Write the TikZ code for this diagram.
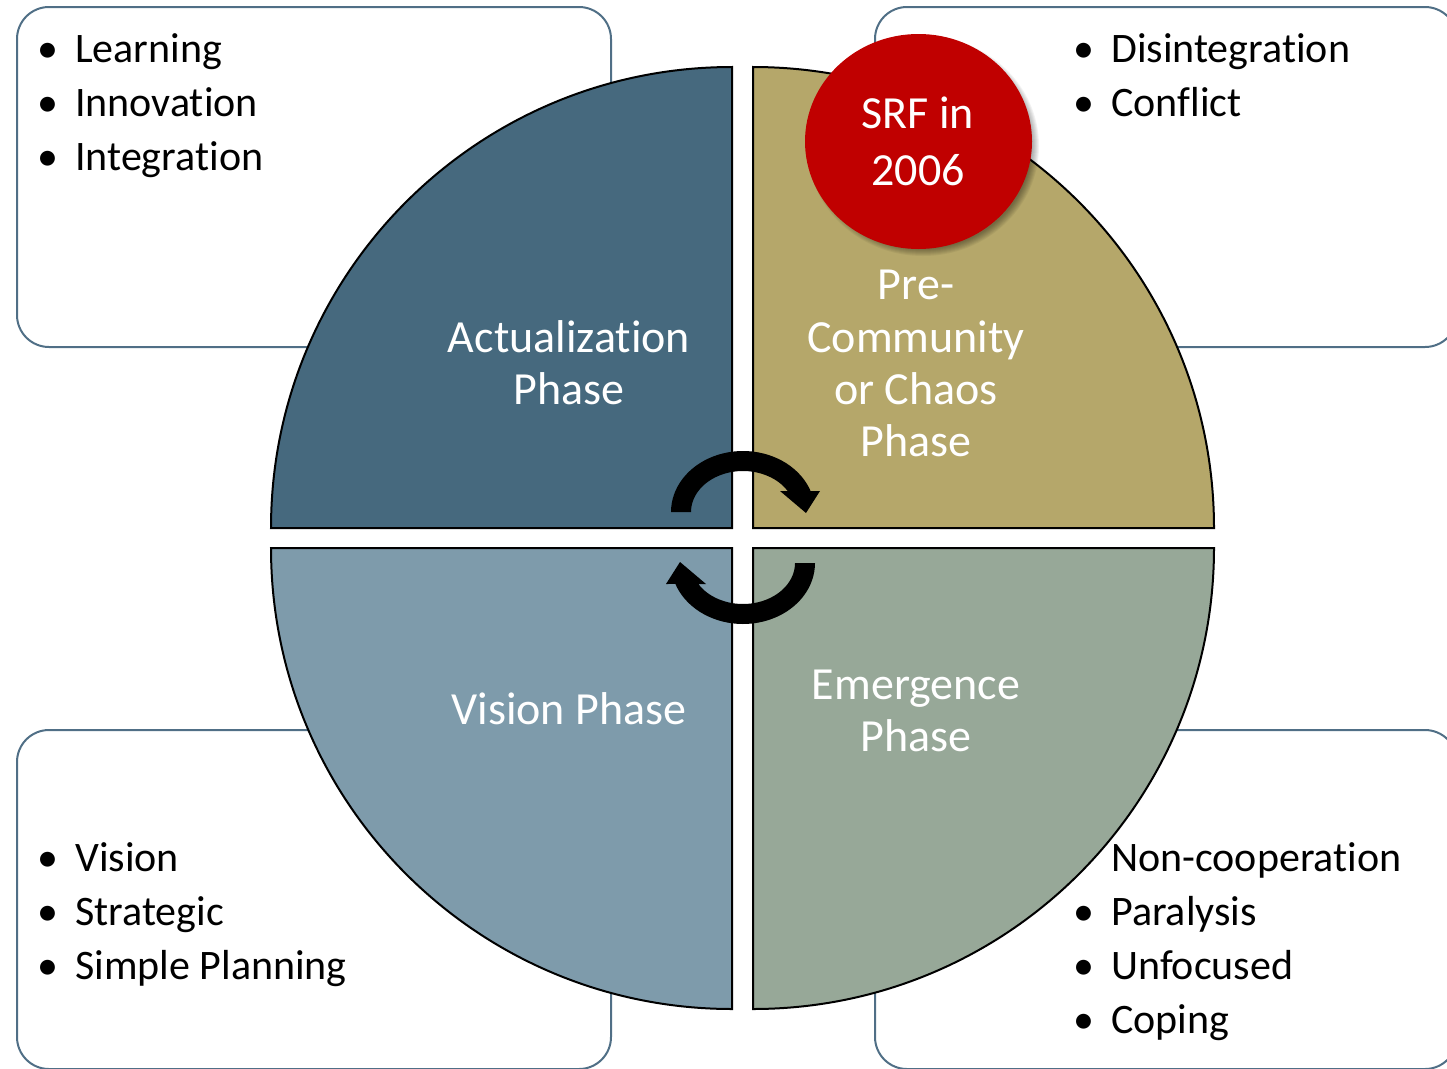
\documentclass[tikz,border=0pt]{standalone}
\usepackage{fontspec}
\setmainfont{Carlito}[Ligatures={NoCommon,NoRare,NoContextual}]
\usetikzlibrary{shapes.geometric}
\newcommand\tnolig{t\kern0pt }
\definecolor{qtl}{RGB}{70,105,126}
\definecolor{qtr}{RGB}{181,167,106}
\definecolor{qbl}{RGB}{126,155,171}
\definecolor{qbr}{RGB}{151,168,152}
\definecolor{srfred}{RGB}{192,0,0}
\definecolor{boxblue}{RGB}{80,111,134}
\begin{document}
\begin{tikzpicture}[x=1pt,y=-1pt,
  infobox/.style={draw=boxblue, line width=2pt, rounded corners=32pt},
  btext/.style={anchor=base west, inner sep=0pt, font=\fontsize{42}{50}\selectfont, text=black},
  bdot/.style={anchor=base, inner sep=0pt, font=\fontsize{42}{50}\selectfont, text=black},
  qlabel/.style={anchor=base, inner sep=0pt, text=white, font=\fontsize{46}{52}\selectfont},
  quad/.style={draw=black, line width=2pt, line join=miter},
  shadowlayer/.style={fill=black, opacity=0.05}]
\useasboundingbox (0,0) rectangle (1447,1068);
% corner boxes
\draw[infobox] (17,7) rectangle (611,347);
\draw[infobox] (875,7) rectangle (1457,347);
\draw[infobox] (17,730) rectangle (611,1069);
\draw[infobox] (875,730) rectangle (1457,1069);
% top-left texts
\node[bdot] (b1) at (48,62) {•};  \node[btext] (t1) at (75,62) {Learning};
\node[bdot] (b2) at (48,116) {•}; \node[btext] (t2) at (75,116) {Innova\tnolig ion};
\node[bdot] (b3) at (48,170) {•}; \node[btext] (t3) at (75,170) {Integra\tnolig ion};
% top-right texts
\node[bdot] (b4) at (1084,62) {•};  \node[btext] (t4) at (1111,62) {Disintegra\tnolig ion};
\node[bdot] (b5) at (1084,116) {•}; \node[btext] (t5) at (1111,116) {Conflict};
% bottom-left texts
\node[bdot] (b6) at (48,871) {•}; \node[btext] (t6) at (75,871) {Vision};
\node[bdot] (b7) at (48,925) {•}; \node[btext] (t7) at (75,925) {Strategic};
\node[bdot] (b8) at (48,979) {•}; \node[btext] (t8) at (75,979) {Simple Planning};
% bottom-right texts
\node[bdot] (b9) at (1084,871) {•}; 
\node[bdot] (b10) at (1084,925) {•}; \node[btext] (t10) at (1111,925) {Paralysis};
\node[bdot] (b11) at (1084,979) {•}; \node[btext] (t11) at (1111,979) {Unfocused};
\node[bdot] (b12) at (1084,1033) {•}; \node[btext] (t12) at (1111,1033) {Coping};
% quadrants
\filldraw[quad, fill=qtl] (732,528) -- ++(-461pt,0pt) arc[start angle=180, end angle=90, radius=461pt] -- cycle;
\filldraw[quad, fill=qtr] (753,528) -- ++(461pt,0pt) arc[start angle=0, end angle=90, radius=461pt] -- cycle;
\filldraw[quad, fill=qbl] (732,548) -- ++(-461pt,0pt) arc[start angle=180, end angle=270, radius=461pt] -- cycle;
\filldraw[quad, fill=qbr] (753,548) -- ++(461pt,0pt) arc[start angle=0, end angle=-90, radius=461pt] -- cycle;
\node[btext] (t9) at (1111,871) {Non-coopera\tnolig ion};
% quadrant labels
\node[qlabel] (a1) at (569,352) {Actualiza\tnolig ion};
\node[qlabel] (a2) at (569,404) {Phase};
\node[qlabel] (p1) at (916,299) {Pre-};
\node[qlabel] (p2) at (916,352) {Community};
\node[qlabel] (p3) at (916,404) {or Chaos};
\node[qlabel] (p4) at (916,456) {Phase};
\node[qlabel] (v1) at (569,724) {Vision Phase};
\node[qlabel] (e1) at (916,699) {Emergence};
\node[qlabel] (e2) at (916,751) {Phase};
% red circle with soft shadow
\foreach \r in {0,...,7} {
  \fill[shadowlayer] (923,146) ellipse [x radius={109pt+\r pt}, y radius={103pt+\r pt}];
}
\node (srf) [ellipse, fill=srfred, minimum width=227pt, minimum height=215pt, inner sep=0pt] at (918.5,141.5) {};
\node[qlabel] (s1) at (918,128.5) {SRF in};
\node[qlabel] (s2) at (918,185) {2006};
% circular arrows
\fill[black] plot[domain=180:339.9, samples=40] ({743+72*cos(\x)},{512+61*sin(\x)})
  -- (820,491) -- (806,513) -- (780,491)
  -- plot[domain=329.2:180, samples=40] ({743+52*cos(\x)},{512+41*sin(\x)}) -- cycle;
\begin{scope}[rotate around={180:(743,537.5)}]
\fill[black] plot[domain=180:339.9, samples=40] ({743+72*cos(\x)},{512+61*sin(\x)})
  -- (820,491) -- (806,513) -- (780,491)
  -- plot[domain=329.2:180, samples=40] ({743+52*cos(\x)},{512+41*sin(\x)}) -- cycle;
\end{scope}
\end{tikzpicture}
\end{document}
